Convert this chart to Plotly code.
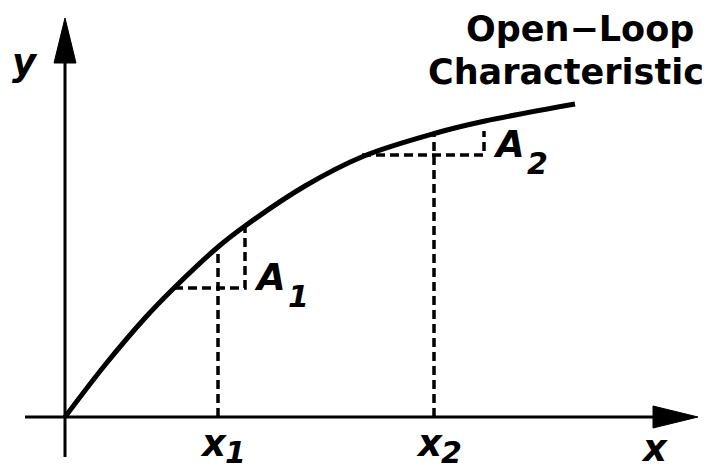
import plotly.graph_objects as go

# Open-loop characteristic (arbitrary units)
curve_x = [0.00, 0.40, 0.80, 1.08, 1.53, 1.80, 2.40, 2.99, 3.71, 4.20, 5.10]
curve_y = [0.00, 0.52, 0.99, 1.28, 1.70, 1.91, 2.31, 2.61, 2.84, 2.96, 3.13]

# Operating points
x_points = [1.53, 3.69]
x_point_y = [1.70, 2.84]
x_labels = ["x", "x"]
x_subs = ["1", "2"]

# Incremental-gain steps (A1, A2): horizontal start x, corner x, low y, high y
step_x0 = [1.09, 2.97]
step_x1 = [1.80, 4.19]
step_ylo = [1.29, 2.62]
step_yhi = [1.90, 2.86]
step_labels = ["A", "A"]
step_subs = ["1", "2"]

title_lines = ["Open\u2212Loop", "Characteristic"]

# axis extents
X_MIN, X_ARROW_BASE, X_ARROW_TIP = -0.40, 5.88, 6.33
Y_MIN, Y_ARROW_BASE, Y_ARROW_TIP = -0.40, 3.54, 3.99
HEAD = 0.11

fig = go.Figure()

dash_style = dict(color="black", width=3.5, dash="9px,5px")

# dashed verticals from operating points down to x axis
for xp, yp in zip(x_points, x_point_y):
    fig.add_trace(go.Scatter(x=[xp, xp], y=[0, yp], mode="lines",
                             line=dash_style, hoverinfo="skip"))
# dashed steps
for a, b, lo, hi in zip(step_x0, step_x1, step_ylo, step_yhi):
    fig.add_trace(go.Scatter(x=[a, b, b], y=[lo, lo, hi], mode="lines",
                             line=dash_style, hoverinfo="skip"))

# axes
fig.add_trace(go.Scatter(x=[X_MIN, X_ARROW_BASE + 0.02], y=[0, 0], mode="lines",
                         line=dict(color="black", width=3), hoverinfo="skip"))
fig.add_trace(go.Scatter(x=[0, 0], y=[Y_MIN, Y_ARROW_BASE + 0.02], mode="lines",
                         line=dict(color="black", width=3), hoverinfo="skip"))
fig.add_trace(go.Scatter(x=[X_ARROW_BASE, X_ARROW_TIP, X_ARROW_BASE, X_ARROW_BASE],
                         y=[HEAD, 0, -HEAD, HEAD], mode="lines", fill="toself",
                         fillcolor="black", line=dict(color="black", width=1),
                         hoverinfo="skip"))
fig.add_trace(go.Scatter(x=[-HEAD, 0, HEAD, -HEAD],
                         y=[Y_ARROW_BASE, Y_ARROW_TIP, Y_ARROW_BASE, Y_ARROW_BASE],
                         mode="lines", fill="toself", fillcolor="black",
                         line=dict(color="black", width=1), hoverinfo="skip"))

# the characteristic
fig.add_trace(go.Scatter(x=curve_x, y=curve_y, mode="lines",
                         line=dict(color="black", width=5, shape="spline", smoothing=1.0),
                         hoverinfo="skip"))

main_font = dict(family="DejaVu Sans", size=37, color="black", weight="bold", style="italic")
sub_font = dict(family="DejaVu Sans", size=30, color="black", weight="bold", style="italic")
title_font = dict(family="DejaVu Sans", size=35, color="black", weight="bold")

def label(x, y, text, font, anchor="center"):
    fig.add_annotation(x=x, y=y, xref="x", yref="y", text=text, showarrow=False,
                       font=font, xanchor=anchor, yanchor="middle")

# x1, x2 labels
for xp, t, s in zip(x_points, x_labels, x_subs):
    label(xp - 0.05, -0.26, t, main_font)
    label(xp + 0.17, -0.35, s, sub_font)

# A1, A2 labels
for b, lo, t, s in zip(step_x1, step_ylo, step_labels, step_subs):
    label(b + 0.25, lo + 0.11, t, main_font)
    label(b + 0.53, lo - 0.08, s, sub_font)

# axis names
label(5.89, -0.31, "x", main_font)
label(-0.405, 3.55, "y", main_font)

# title lines
label(5.15, 3.88, title_lines[0], title_font)
label(5.01, 3.45, title_lines[1], title_font)

# the page places the plot 8px from its top-left corner; shift ranges to compensate
fig.update_layout(
    width=711, height=470,
    margin=dict(l=0, r=0, t=0, b=0),
    paper_bgcolor="white", plot_bgcolor="white",
    showlegend=False,
    xaxis=dict(range=[-0.57, 6.54], visible=False, fixedrange=True),
    yaxis=dict(range=[-0.61, 4.09], visible=False, fixedrange=True),
)

fig.write_html("out.html")
